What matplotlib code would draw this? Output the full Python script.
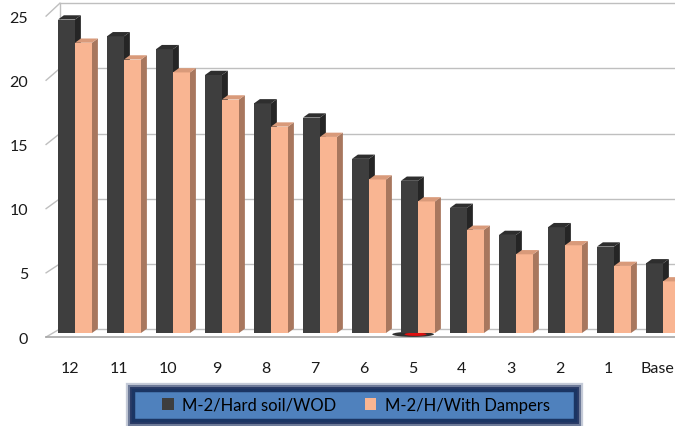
import matplotlib
matplotlib.use("Agg")
import matplotlib.pyplot as plt
from matplotlib.patches import Polygon, Rectangle, Ellipse
import matplotlib.patheffects as pe

categories = ["12", "11", "10", "9", "8", "7", "6", "5", "4", "3", "2", "1", "Base"]
series_names = ["M-2/Hard soil/WOD", "M-2/H/With Dampers"]
wod = [24.3, 23.0, 22.0, 20.0, 17.8, 16.7, 13.5, 11.8, 9.7, 7.6, 8.2, 6.7, 5.4]
dampers = [22.5, 21.2, 20.2, 18.1, 16.0, 15.2, 11.9, 10.2, 8.0, 6.1, 6.8, 5.2, 4.0]
yticks = [0, 5, 10, 15, 20, 25]

plt.rcParams['font.family'] = ['Lato', 'DejaVu Sans']

W, H = 675, 427
fig = plt.figure(figsize=(W / 100, H / 100), dpi=100)
ax = fig.add_axes([0, 0, 1, 1])
PX = 49.0     # pixels per category
PY = 12.9     # pixels per value unit
ax.set_xlim(-75 / PX, 600 / PX)
ax.set_ylim((334 - H) / PY, 334 / PY)
ax.axis('off')

w = 0.347            # bar width (front face)
dx, dy = 0.12, 0.33  # depth offset
front_x, back_x = -0.59, -0.31
grid_c = '#BFBFBF'

def front_y(v):
    return v * 0.995 - 0.31

def back_y(v):
    return v * 1.01 + 0.31

# walls / grid
xr = ax.get_xlim()[1]
for v in yticks:
    ax.plot([back_x, xr], [back_y(v), back_y(v)], color=grid_c, lw=1.0, zorder=1)
    ax.plot([front_x, back_x], [front_y(v), back_y(v)], color=grid_c, lw=1.0, zorder=1)
    ax.text(-0.96, front_y(v) - 0.12, str(v), ha='right', va='center', fontsize=11.5, color='#1a1a1a')
ax.plot([back_x, back_x], [back_y(0), back_y(25)], color=grid_c, lw=1.0, zorder=1)
ax.plot([front_x, xr], [front_y(0), front_y(0)], color='#A6A6A6', lw=1.2, zorder=1)

dark = dict(front='#3E3E3E', side='#252525', top='#2E2E2E')
light = dict(front='#F9B592', side='#A8775E', top='#D99A7A')

def bar3d(x0, h, c):
    ax.add_patch(Rectangle((x0, 0), w, h, facecolor=c['front'], edgecolor='none', zorder=3))
    ax.add_patch(Polygon([(x0 + w, 0), (x0 + w + dx, dy), (x0 + w + dx, h + dy), (x0 + w, h)],
                         closed=True, facecolor=c['side'], edgecolor='none', zorder=3))
    ax.add_patch(Polygon([(x0, h), (x0 + dx, h + dy), (x0 + w + dx, h + dy), (x0 + w, h)],
                         closed=True, facecolor=c['top'], edgecolor='none', zorder=3))

for i in range(len(categories)):
    bar3d(i - w, wod[i], dark)
    bar3d(i, dampers[i], light)
    ax.text(i - 0.11, (334 - 369) / PY, categories[i], ha='center', va='center',
            fontsize=11.5, color='#1a1a1a')

# small red artefact at the base of category "5"
i5 = categories.index("5")
ax.add_patch(Ellipse((i5 - 0.1, -0.1), 0.85, 0.4, facecolor='#303030', edgecolor='none', zorder=2))
ax.add_patch(Ellipse((i5 - 0.05, -0.1), 0.45, 0.25, facecolor='#E01010', edgecolor='none', zorder=2))

# legend frame (figure pixel coordinates)
lx0, lx1, ly0, ly1 = 133, 575, 391, 421
frame = Rectangle((lx0 / W, 1 - ly1 / H), (lx1 - lx0) / W, (ly1 - ly0) / H,
                  transform=fig.transFigure, facecolor='#4F81BD', edgecolor='#1B3563',
                  linewidth=2.5, zorder=5)
frame.set_path_effects([pe.Stroke(linewidth=11, foreground='#c5cbd8'),
                        pe.Stroke(linewidth=8, foreground='#6d7a98'),
                        pe.Stroke(linewidth=5, foreground='#2a3b66'),
                        pe.Normal()])
fig.patches.append(frame)

handles = [Rectangle((0, 0), 1, 1, facecolor=dark['front']),
           Rectangle((0, 0), 1, 1, facecolor=light['front'])]
leg = fig.legend(handles, series_names, loc='center', bbox_to_anchor=(356 / W, 1 - 406 / H),
                 ncol=2, fontsize=12, frameon=False, handlelength=0.7,
                 handleheight=0.7, handletextpad=0.5, columnspacing=1.7, borderpad=0.3,
                 borderaxespad=0)
leg.set_zorder(6)

fig.savefig('out.png', dpi=100)
